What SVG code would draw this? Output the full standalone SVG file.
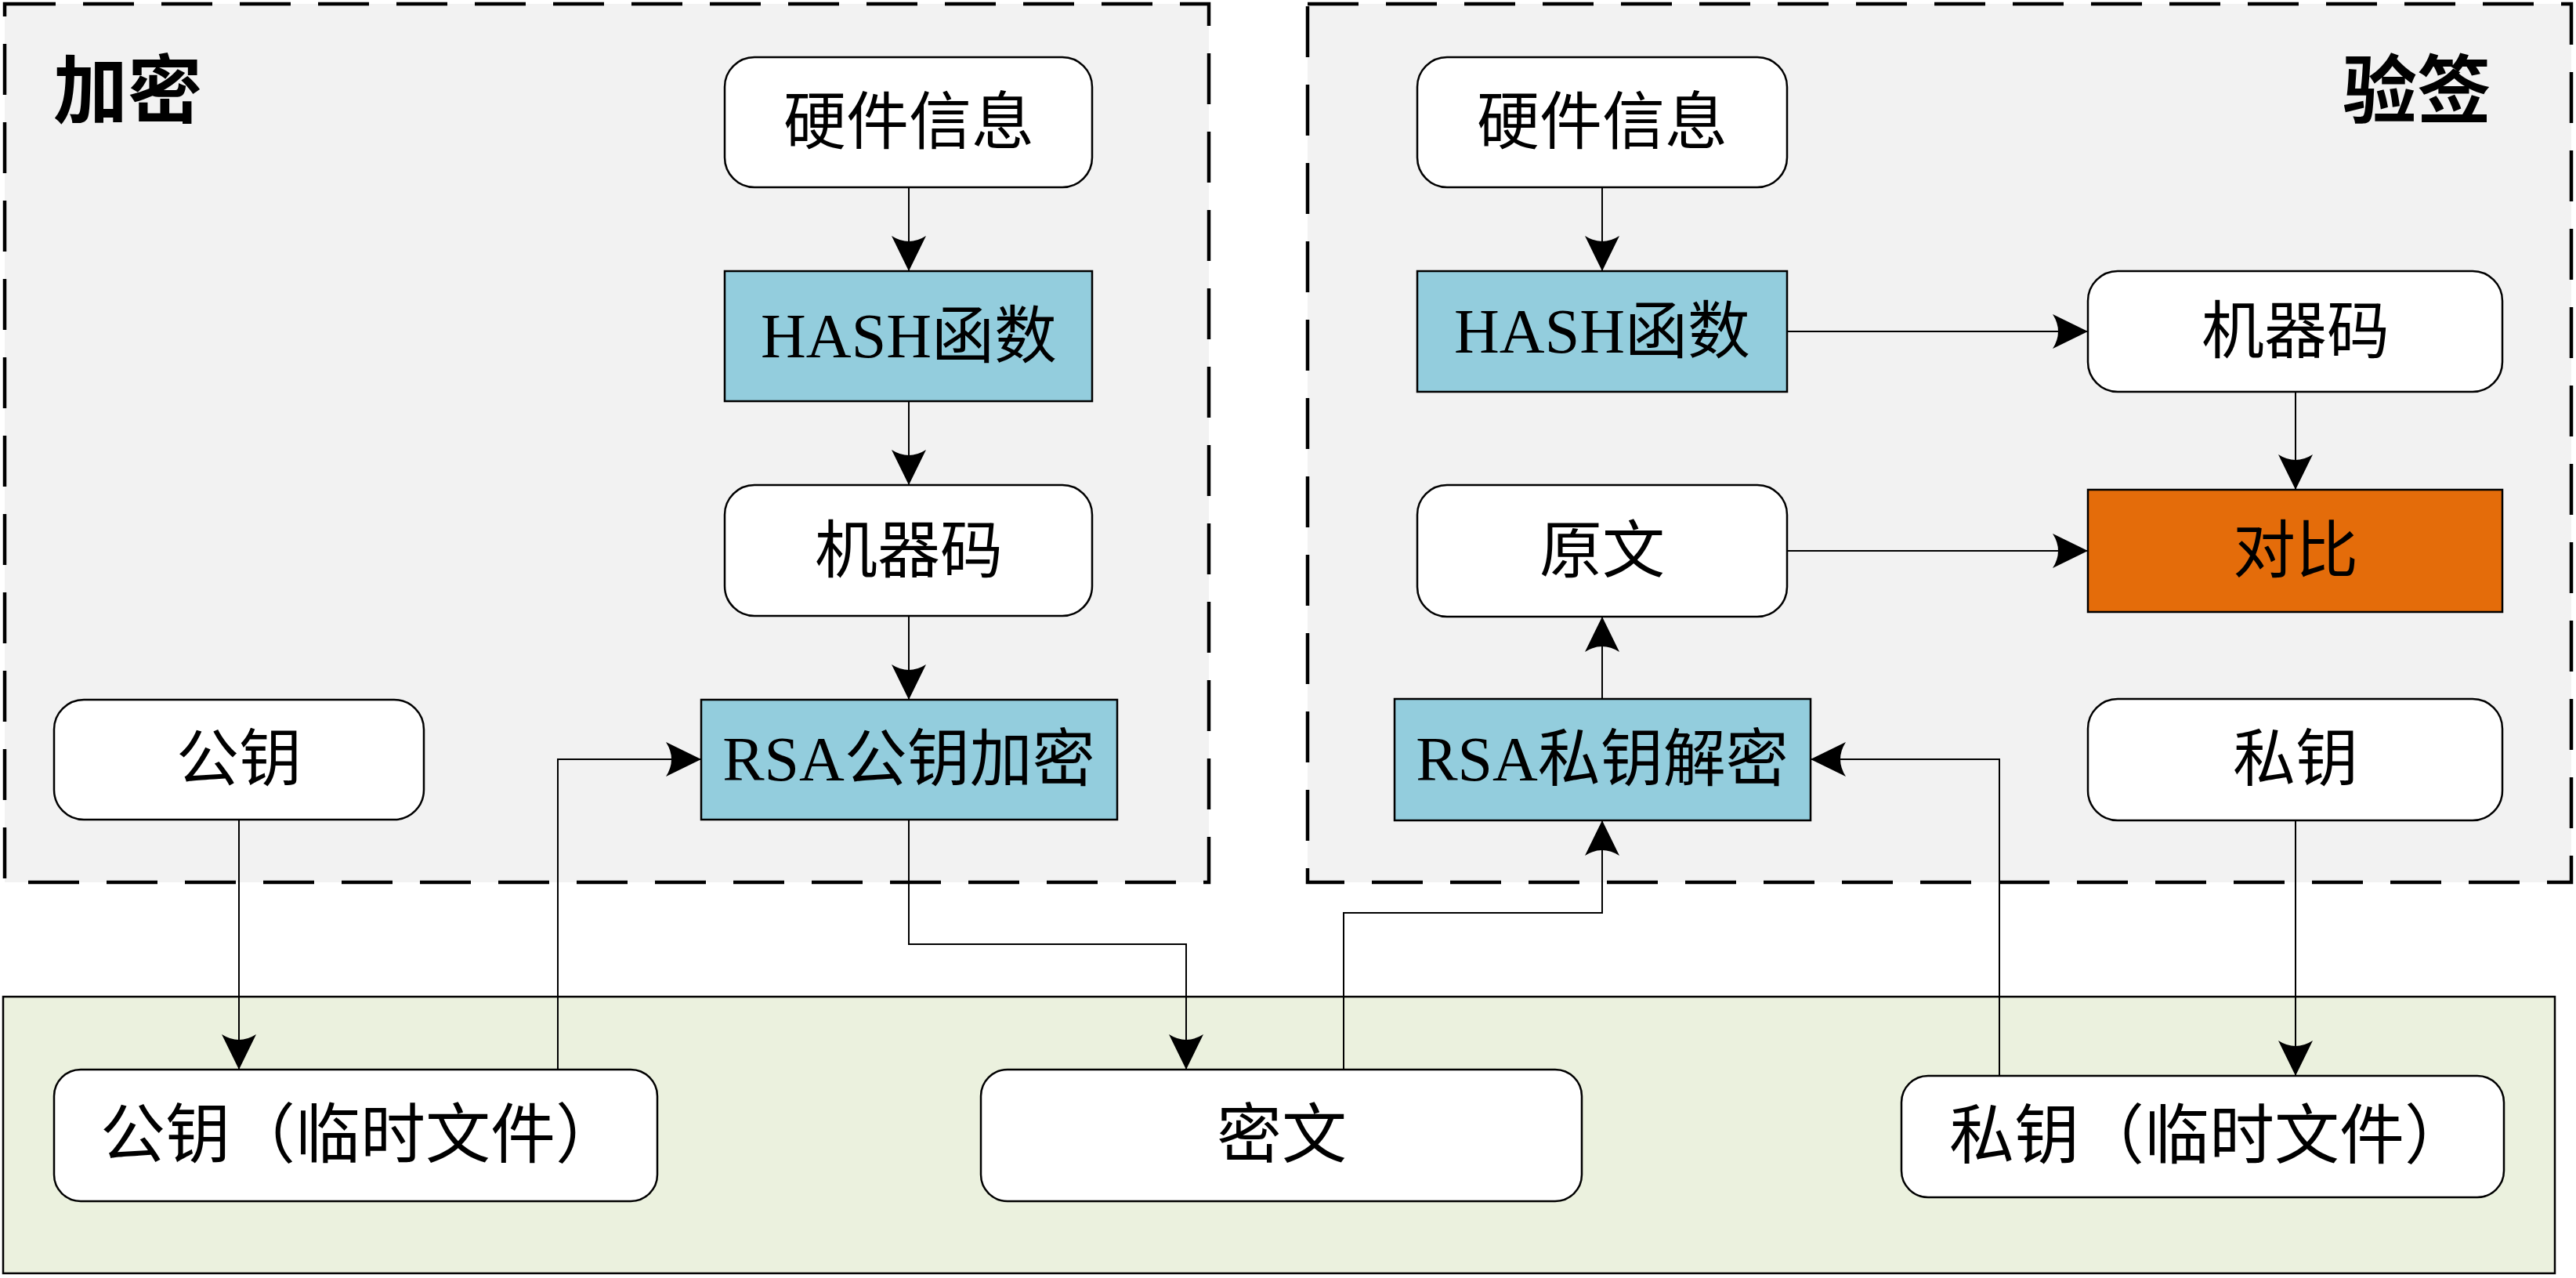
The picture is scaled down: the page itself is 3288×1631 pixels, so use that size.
<svg xmlns="http://www.w3.org/2000/svg" width="3288" height="1631" viewBox="0 0 3288 1631">
<style>
.grp{fill:#f2f2f2;stroke:#000;stroke-width:4.5;stroke-dasharray:65 35}
.band{fill:#ebf1de;stroke:#000;stroke-width:2.5}
.rn{fill:#fff;stroke:#000;stroke-width:2.5}
.bl{fill:#93cddd;stroke:#000;stroke-width:2.5}
.or{fill:#e46c0a;stroke:#000;stroke-width:2.5}
.t{font-family:"Liberation Serif","Noto Sans CJK SC",serif;font-size:80px;fill:#000;text-anchor:middle;dominant-baseline:central}
.tb{font-size:83px}
.title{font-family:"Liberation Serif","Noto Sans CJK SC",serif;font-size:95px;font-weight:bold;fill:#000}
.c{fill:none;stroke:#000;stroke-width:2;marker-end:url(#ah)}
</style>
<defs>
<marker id="ah" markerUnits="userSpaceOnUse" markerWidth="46" markerHeight="46" refX="45" refY="22" orient="auto" viewBox="0 0 46 44">
<path d="M45,22 L0,0 Q14,22 0,44 Z" fill="#000"/>
</marker>
</defs>
<rect width="3288" height="1631" fill="#fff"/>
<g id="group-encrypt">
<rect class="grp" x="6" y="5" width="1537" height="1121"/>
<text class="title" x="68" y="150">加密</text>
</g>
<g id="group-verify">
<rect class="grp" x="1669" y="5" width="1613" height="1121"/>
<text class="title" x="3180" y="150" text-anchor="end">验签</text>
</g>
<g id="group-temp">
<rect class="band" x="4" y="1272" width="3257" height="353"/>
</g>
<g id="n-hw1"><rect class="rn" x="925" y="73" width="469" height="166" rx="38"/><text class="t" x="1160" y="156">硬件信息</text></g>
<g id="n-hash1"><rect class="bl" x="925" y="346" width="469" height="166"/><text class="t" x="1160" y="429">HASH函数</text></g>
<g id="n-mc1"><rect class="rn" x="925" y="619" width="469" height="167" rx="38"/><text class="t" x="1160" y="703">机器码</text></g>
<g id="n-rsaenc"><rect class="bl" x="895" y="893" width="531" height="153"/><text class="t" x="1160" y="969">RSA公钥加密</text></g>
<g id="n-pub"><rect class="rn" x="69" y="893" width="472" height="153" rx="38"/><text class="t" x="305" y="969">公钥</text></g>
<g id="n-hw2"><rect class="rn" x="1809" y="73" width="472" height="166" rx="38"/><text class="t" x="2045" y="156">硬件信息</text></g>
<g id="n-hash2"><rect class="bl" x="1809" y="346" width="472" height="154"/><text class="t" x="2045" y="423">HASH函数</text></g>
<g id="n-mc2"><rect class="rn" x="2665" y="346" width="529" height="154" rx="38"/><text class="t" x="2930" y="423">机器码</text></g>
<g id="n-plain"><rect class="rn" x="1809" y="619" width="472" height="168" rx="38"/><text class="t" x="2045" y="703">原文</text></g>
<g id="n-cmp"><rect class="or" x="2665" y="625" width="529" height="156"/><text class="t" x="2930" y="703">对比</text></g>
<g id="n-rsadec"><rect class="bl" x="1780" y="892" width="531" height="155"/><text class="t" x="2045" y="969">RSA私钥解密</text></g>
<g id="n-priv"><rect class="rn" x="2665" y="892" width="529" height="155" rx="38"/><text class="t" x="2930" y="969">私钥</text></g>
<g id="n-pubtmp"><rect class="rn" x="69" y="1365" width="770" height="168" rx="34"/><text class="t tb" x="460" y="1449">公钥（临时文件）</text></g>
<g id="n-cipher"><rect class="rn" x="1252" y="1365" width="767" height="168" rx="34"/><text class="t tb" x="1636" y="1449">密文</text></g>
<g id="n-privtmp"><rect class="rn" x="2427" y="1373" width="769" height="155" rx="34"/><text class="t tb" x="2820" y="1450">私钥（临时文件）</text></g>
<g id="connectors">
<path class="c" d="M1160,239 V346"/>
<path class="c" d="M1160,512 V619"/>
<path class="c" d="M1160,786 V893"/>
<path class="c" d="M305,1046 V1365"/>
<path class="c" d="M712,1365 V969 H895"/>
<path class="c" d="M1160,1046 V1205 H1514 V1365"/>
<path class="c" d="M1715,1365 V1165 H2045 V1047"/>
<path class="c" d="M2045,239 V346"/>
<path class="c" d="M2281,423 H2665"/>
<path class="c" d="M2930,500 V625"/>
<path class="c" d="M2281,703 H2665"/>
<path class="c" d="M2045,892 V787"/>
<path class="c" d="M2552,1373 V969 H2311"/>
<path class="c" d="M2930,1047 V1373"/>
</g>
</svg>
